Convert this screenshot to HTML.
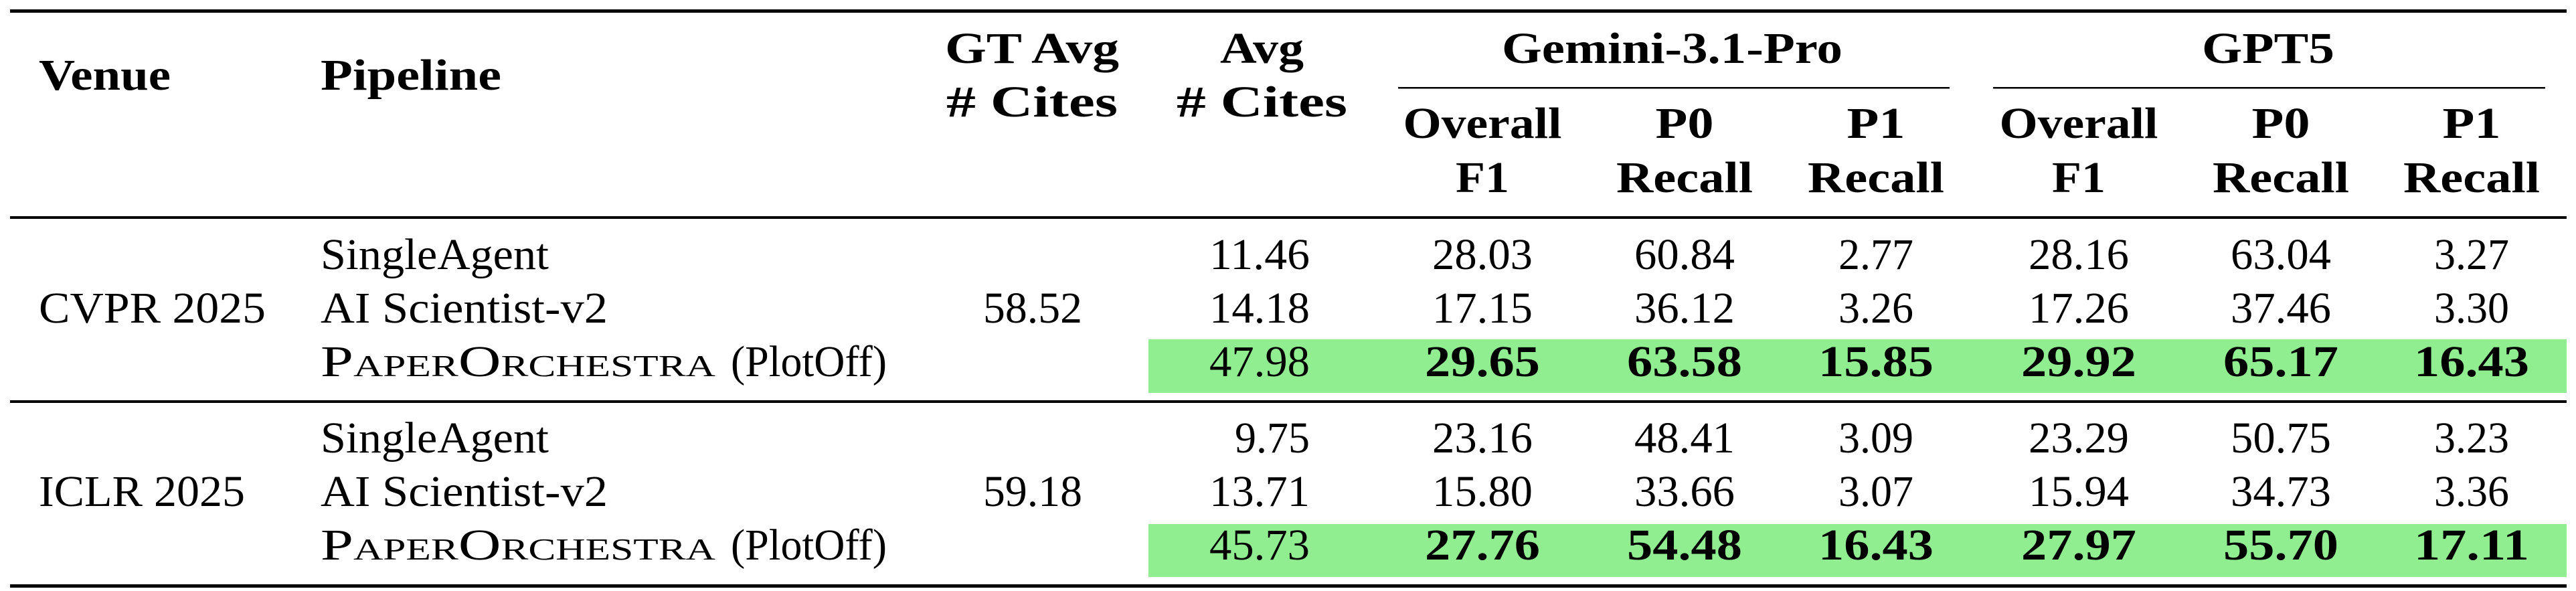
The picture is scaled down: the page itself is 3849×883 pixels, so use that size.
<!DOCTYPE html>
<html><head><meta charset="utf-8"><style>
html,body{margin:0;padding:0;background:#fff;}
svg{display:block;}
svg text{font-family:"Liberation Serif","DejaVu Serif",serif;font-size:66px;fill:#000;}
.b{font-weight:bold;}
</style></head><body>
<svg width="3849" height="883" viewBox="0 0 3849 883" xmlns="http://www.w3.org/2000/svg" font-family="Liberation Serif, DejaVu Serif, serif">
<rect x="1716" y="507" width="2119" height="80" fill="#90EE90"/>
<rect x="1716" y="783" width="2119" height="79" fill="#90EE90"/>
<rect x="15" y="14" width="3820" height="5"/>
<rect x="15" y="323" width="3820" height="4"/>
<rect x="15" y="598" width="3820" height="4"/>
<rect x="15" y="873" width="3820" height="5"/>
<rect x="2089" y="130" width="824" height="2.5"/>
<rect x="2978" y="130" width="825" height="2.5"/>

<g font-family="Liberation Serif, DejaVu Serif, serif">
<text class="b" x="58" y="134" textLength="197" lengthAdjust="spacingAndGlyphs">Venue</text>
<text class="b" x="479" y="134" textLength="270" lengthAdjust="spacingAndGlyphs">Pipeline</text>
<text class="b" x="1412" y="94" textLength="260" lengthAdjust="spacingAndGlyphs">GT Avg</text>
<text class="b" x="1414" y="174" textLength="256" lengthAdjust="spacingAndGlyphs"># Cites</text>
<text class="b" x="1823" y="94" textLength="125" lengthAdjust="spacingAndGlyphs">Avg</text>
<text class="b" x="1758" y="174" textLength="255" lengthAdjust="spacingAndGlyphs"># Cites</text>
<text class="b" x="2244" y="94" textLength="509" lengthAdjust="spacingAndGlyphs">Gemini-3.1-Pro</text>
<text class="b" x="3290" y="94" textLength="198" lengthAdjust="spacingAndGlyphs">GPT5</text>

<g text-anchor="middle">
<text class="b" x="2215" y="206" textLength="237" lengthAdjust="spacingAndGlyphs">Overall</text>
<text class="b" x="2215" y="287" textLength="80" lengthAdjust="spacingAndGlyphs">F1</text>
<text class="b" x="2517" y="206" textLength="87" lengthAdjust="spacingAndGlyphs">P0</text>
<text class="b" x="2517" y="287" textLength="204" lengthAdjust="spacingAndGlyphs">Recall</text>
<text class="b" x="2803" y="206" textLength="87" lengthAdjust="spacingAndGlyphs">P1</text>
<text class="b" x="2803" y="287" textLength="204" lengthAdjust="spacingAndGlyphs">Recall</text>
<text class="b" x="3106" y="206" textLength="237" lengthAdjust="spacingAndGlyphs">Overall</text>
<text class="b" x="3106" y="287" textLength="80" lengthAdjust="spacingAndGlyphs">F1</text>
<text class="b" x="3408" y="206" textLength="87" lengthAdjust="spacingAndGlyphs">P0</text>
<text class="b" x="3408" y="287" textLength="204" lengthAdjust="spacingAndGlyphs">Recall</text>
<text class="b" x="3693" y="206" textLength="87" lengthAdjust="spacingAndGlyphs">P1</text>
<text class="b" x="3693" y="287" textLength="204" lengthAdjust="spacingAndGlyphs">Recall</text>
</g>

<text x="58" y="482" textLength="339" lengthAdjust="spacingAndGlyphs">CVPR 2025</text>
<text x="58" y="756" textLength="308" lengthAdjust="spacingAndGlyphs">ICLR 2025</text>
<text x="479" y="402" textLength="341" lengthAdjust="spacingAndGlyphs">SingleAgent</text>
<text x="479" y="482" textLength="429" lengthAdjust="spacingAndGlyphs">AI Scientist-v2</text>
<text x="479" y="562" textLength="590" lengthAdjust="spacingAndGlyphs" style="font-variant:small-caps">PaperOrchestra</text>
<text x="1092" y="562" textLength="233" lengthAdjust="spacingAndGlyphs">(PlotOff)</text>
<text x="479" y="676" textLength="341" lengthAdjust="spacingAndGlyphs">SingleAgent</text>
<text x="479" y="756" textLength="429" lengthAdjust="spacingAndGlyphs">AI Scientist-v2</text>
<text x="479" y="836" textLength="590" lengthAdjust="spacingAndGlyphs" style="font-variant:small-caps">PaperOrchestra</text>
<text x="1092" y="836" textLength="233" lengthAdjust="spacingAndGlyphs">(PlotOff)</text>

<g text-anchor="middle">
<text x="1543" y="482" textLength="148" lengthAdjust="spacingAndGlyphs">58.52</text>
<text x="1543" y="756" textLength="148" lengthAdjust="spacingAndGlyphs">59.18</text>
</g>
<g text-anchor="end">
<text x="1957" y="402" textLength="150" lengthAdjust="spacingAndGlyphs">11.46</text>
<text x="1957" y="482" textLength="150" lengthAdjust="spacingAndGlyphs">14.18</text>
<text x="1957" y="562" textLength="150" lengthAdjust="spacingAndGlyphs">47.98</text>
<text x="1957" y="676" textLength="112" lengthAdjust="spacingAndGlyphs">9.75</text>
<text x="1957" y="756" textLength="150" lengthAdjust="spacingAndGlyphs">13.71</text>
<text x="1957" y="836" textLength="150" lengthAdjust="spacingAndGlyphs">45.73</text>
</g>

<g text-anchor="middle">
<text x="2215" y="402" textLength="150" lengthAdjust="spacingAndGlyphs">28.03</text>
<text x="2517" y="402" textLength="150" lengthAdjust="spacingAndGlyphs">60.84</text>
<text x="2803" y="402" textLength="112" lengthAdjust="spacingAndGlyphs">2.77</text>
<text x="3106" y="402" textLength="150" lengthAdjust="spacingAndGlyphs">28.16</text>
<text x="3408" y="402" textLength="150" lengthAdjust="spacingAndGlyphs">63.04</text>
<text x="3693" y="402" textLength="112" lengthAdjust="spacingAndGlyphs">3.27</text>

<text x="2215" y="482" textLength="150" lengthAdjust="spacingAndGlyphs">17.15</text>
<text x="2517" y="482" textLength="150" lengthAdjust="spacingAndGlyphs">36.12</text>
<text x="2803" y="482" textLength="112" lengthAdjust="spacingAndGlyphs">3.26</text>
<text x="3106" y="482" textLength="150" lengthAdjust="spacingAndGlyphs">17.26</text>
<text x="3408" y="482" textLength="150" lengthAdjust="spacingAndGlyphs">37.46</text>
<text x="3693" y="482" textLength="112" lengthAdjust="spacingAndGlyphs">3.30</text>

<text x="2215" y="676" textLength="150" lengthAdjust="spacingAndGlyphs">23.16</text>
<text x="2517" y="676" textLength="150" lengthAdjust="spacingAndGlyphs">48.41</text>
<text x="2803" y="676" textLength="112" lengthAdjust="spacingAndGlyphs">3.09</text>
<text x="3106" y="676" textLength="150" lengthAdjust="spacingAndGlyphs">23.29</text>
<text x="3408" y="676" textLength="150" lengthAdjust="spacingAndGlyphs">50.75</text>
<text x="3693" y="676" textLength="112" lengthAdjust="spacingAndGlyphs">3.23</text>

<text x="2215" y="756" textLength="150" lengthAdjust="spacingAndGlyphs">15.80</text>
<text x="2517" y="756" textLength="150" lengthAdjust="spacingAndGlyphs">33.66</text>
<text x="2803" y="756" textLength="112" lengthAdjust="spacingAndGlyphs">3.07</text>
<text x="3106" y="756" textLength="150" lengthAdjust="spacingAndGlyphs">15.94</text>
<text x="3408" y="756" textLength="150" lengthAdjust="spacingAndGlyphs">34.73</text>
<text x="3693" y="756" textLength="112" lengthAdjust="spacingAndGlyphs">3.36</text>
</g>

<g text-anchor="middle">
<text class="b" x="2215" y="562" textLength="172" lengthAdjust="spacingAndGlyphs">29.65</text>
<text class="b" x="2517" y="562" textLength="172" lengthAdjust="spacingAndGlyphs">63.58</text>
<text class="b" x="2803" y="562" textLength="172" lengthAdjust="spacingAndGlyphs">15.85</text>
<text class="b" x="3106" y="562" textLength="172" lengthAdjust="spacingAndGlyphs">29.92</text>
<text class="b" x="3408" y="562" textLength="172" lengthAdjust="spacingAndGlyphs">65.17</text>
<text class="b" x="3693" y="562" textLength="172" lengthAdjust="spacingAndGlyphs">16.43</text>

<text class="b" x="2215" y="836" textLength="172" lengthAdjust="spacingAndGlyphs">27.76</text>
<text class="b" x="2517" y="836" textLength="172" lengthAdjust="spacingAndGlyphs">54.48</text>
<text class="b" x="2803" y="836" textLength="172" lengthAdjust="spacingAndGlyphs">16.43</text>
<text class="b" x="3106" y="836" textLength="172" lengthAdjust="spacingAndGlyphs">27.97</text>
<text class="b" x="3408" y="836" textLength="172" lengthAdjust="spacingAndGlyphs">55.70</text>
<text class="b" x="3693" y="836" textLength="172" lengthAdjust="spacingAndGlyphs">17.11</text>
</g>
</g>
</svg>
</body></html>
